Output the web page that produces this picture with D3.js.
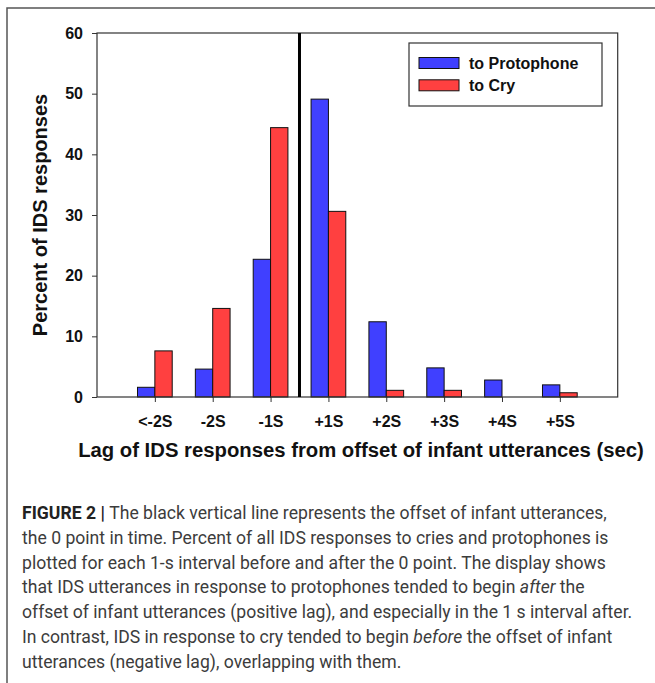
<!DOCTYPE html>
<html>
<head>
<meta charset="utf-8">
<script src="https://cdn.jsdelivr.net/npm/d3@7"></script>
<style>
  body { margin: 0; background: #fff; }
  svg { display: block; }
</style>
</head>
<body>
<div id="chart"></div>
<script>

// data
const categories = ["<-2S", "-2S", "-1S", "+1S", "+2S", "+3S", "+4S", "+5S"];
const protophone = [1.6, 4.6, 22.7, 49.1, 12.4, 4.8, 2.8, 2.0];
const cry        = [7.6, 14.6, 44.4, 30.6, 1.1, 1.1, 0, 0.7];
const seriesNames = ["to Protophone", "to Cry"];
const yTicks = [0, 10, 20, 30, 40, 50, 60];
const zeroPoint = 3.5;   // offset of infant utterance, between -1S and +1S

const colors = ["#4040ff", "#ff4040"];

const width = 655, height = 683;
const margin = {top: 33, right: 37.3, bottom: 286, left: 97};

const svg = d3.select("#chart")
  .append("svg")
  .attr("width", width)
  .attr("height", height);

// outer figure frame (top + left only)
svg.append("path")
  .attr("d", "M7,683 L7,8 L655,8")
  .attr("fill", "none")
  .attr("stroke", "#555")
  .attr("stroke-width", 1.5);

// scales
const x = d3.scaleLinear()
  .domain([0, categories.length + 1])
  .range([margin.left, width - margin.right]);

const y = d3.scaleLinear()
  .domain([0, 60])
  .range([height - margin.bottom, margin.top]);

const step = x(1) - x(0);
const barW = step * 0.3;

// bars
const series = [protophone, cry];
series.forEach(function(values, s) {
  svg.append("g")
    .selectAll("rect")
    .data(values)
    .enter()
    .append("rect")
    .attr("x", function(d, i) { return x(i + 1) - barW + s * barW; })
    .attr("y", function(d) { return y(d); })
    .attr("width", barW)
    .attr("height", function(d) { return y(0) - y(d); })
    .attr("fill", colors[s])
    .attr("stroke", function(d) { return d > 0 ? "#111" : "none"; })
    .attr("stroke-width", 1);
});

// plot frame
svg.append("rect")
  .attr("x", x.range()[0])
  .attr("y", y.range()[1])
  .attr("width", x.range()[1] - x.range()[0])
  .attr("height", y.range()[0] - y.range()[1])
  .attr("fill", "none")
  .attr("stroke", "#333")
  .attr("stroke-width", 1.2);

// y axis
const yAxis = svg.append("g")
  .attr("transform", "translate(" + margin.left + ",0)")
  .call(d3.axisLeft(y).tickValues(yTicks).tickSize(5).tickPadding(9));
yAxis.select(".domain").remove();
yAxis.selectAll("line").attr("stroke", "#333");
yAxis.selectAll("text")
  .attr("fill", "#111")
  .style("font", "bold 16px 'Liberation Sans', Arial, sans-serif");

// x axis (ticks at category centers)
const xAxis = svg.append("g")
  .attr("transform", "translate(0," + y(0) + ")")
  .call(d3.axisBottom(x)
    .tickValues(d3.range(1, categories.length + 1))
    .tickFormat(function(d) { return categories[d - 1]; })
    .tickSize(5)
    .tickPadding(14));
xAxis.select(".domain").remove();
xAxis.selectAll("line").attr("stroke", "#333");
xAxis.selectAll("text")
  .attr("fill", "#111")
  .style("font", "bold 16px 'Liberation Sans', Arial, sans-serif");

// black vertical line at the 0 point
svg.append("line")
  .attr("x1", x(zeroPoint)).attr("x2", x(zeroPoint))
  .attr("y1", y(60)).attr("y2", y(0))
  .attr("stroke", "#000")
  .attr("stroke-width", 3);

// axis titles
svg.append("text")
  .attr("x", 361)
  .attr("y", 457)
  .attr("text-anchor", "middle")
  .attr("fill", "#111")
  .style("font", "bold 20.3px 'Liberation Sans', Arial, sans-serif")
  .text("Lag of IDS responses from offset of infant utterances (sec)");

svg.append("text")
  .attr("transform", "translate(47," + ((y(0) + y(60)) / 2) + ") rotate(-90)")
  .attr("text-anchor", "middle")
  .attr("fill", "#111")
  .style("font", "bold 20px 'Liberation Sans', Arial, sans-serif")
  .text("Percent of IDS responses");

// legend
const legend = svg.append("g").attr("transform", "translate(409,43)");
legend.append("rect")
  .attr("width", 193).attr("height", 63)
  .attr("fill", "#fff")
  .attr("stroke", "#333")
  .attr("stroke-width", 1.2);
seriesNames.forEach(function(name, i) {
  legend.append("rect")
    .attr("x", 10).attr("y", 14.5 + i * 22.3)
    .attr("width", 40).attr("height", 11)
    .attr("fill", colors[i])
    .attr("stroke", "#111");
  legend.append("text")
    .attr("x", 60).attr("y", 25.5 + i * 22.3)
    .attr("fill", "#111")
    .style("font", "bold 16px 'Liberation Sans', Arial, sans-serif")
    .text(name);
});

// caption, line by line as in the figure
const captionLines = [
  [["FIGURE 2 | ", "b"], ["The black vertical line represents the offset of infant utterances,", ""]],
  [["the 0 point in time. Percent of all IDS responses to cries and protophones is", ""]],
  [["plotted for each 1-s interval before and after the 0 point. The display shows", ""]],
  [["that IDS utterances in response to protophones tended to begin ", ""], ["after", "i"], [" the", ""]],
  [["offset of infant utterances (positive lag), and especially in the 1 s interval after.", ""]],
  [["In contrast, IDS in response to cry tended to begin ", ""], ["before", "i"], [" the offset of infant", ""]],
  [["utterances (negative lag), overlapping with them.", ""]]
];

const caption = svg.append("g")
  .style("font-family", "Roboto, 'Liberation Sans', sans-serif")
  .style("font-size", "17.6px")
  .attr("fill", "#3c3c3c");

captionLines.forEach(function(parts, i) {
  const t = caption.append("text")
    .attr("x", 22)
    .attr("y", 519 + i * 24.8);
  parts.forEach(function(p) {
    const span = t.append("tspan").text(p[0]);
    if (p[1] === "b") span.attr("font-weight", "bold").attr("fill", "#222");
    if (p[1] === "i") span.attr("font-style", "italic");
  });
});

</script>
</body>
</html>
